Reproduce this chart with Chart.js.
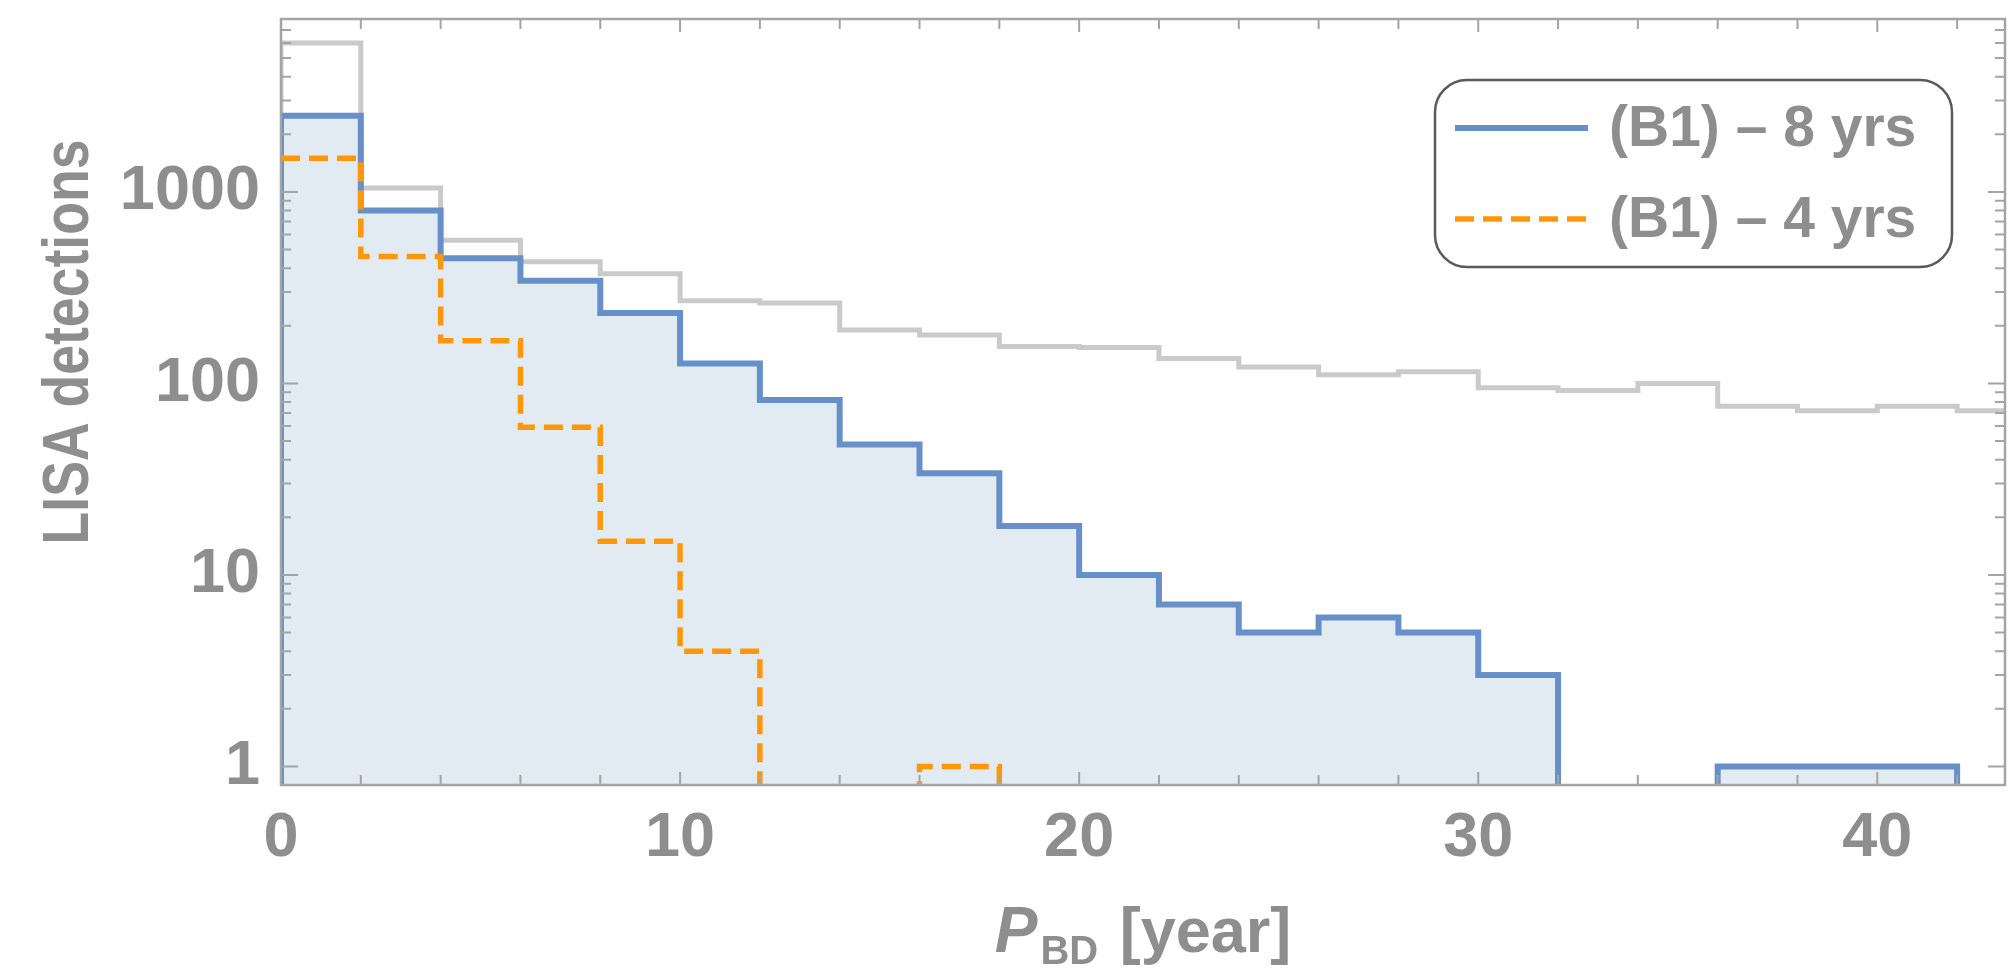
<!DOCTYPE html>
<html>
<head>
<meta charset="utf-8">
<title>LISA detections vs P_BD</title>
<script src="https://cdn.jsdelivr.net/npm/chart.js@4.4.1/dist/chart.umd.min.js"></script>
<style>
    html, body { margin: 0; padding: 0; background: #ffffff; }
    .chart-box { width: 2008px; height: 970px; position: relative; }
</style>
</head>
<body>
<div class="chart-box"><canvas id="histChart"></canvas></div>
<script>
// bin edges in years, one more than the longest count list
const binEdges = [0, 2, 4, 6, 8, 10, 12, 14, 16, 18, 20, 22, 24, 26, 28, 30, 32, 34, 36, 38, 40, 42, 44];

// counts per bin, starting at the first edge
const countsAll = [6000, 1050, 560, 432, 374, 270, 263, 190, 179, 156, 154, 135, 122, 111, 115, 95, 92, 100, 76, 72, 76, 72];
const countsB1_8yr = [2500, 800, 450, 344, 233, 127, 82, 48, 34, 18, 10, 7, 5, 6, 5, 3, 0, 0, 1, 1, 1];
const countsB1_4yr = [1500, 460, 167, 59, 15, 4, 0, 0, 1];

const seriesLabels = ['(B1) \u2013 8 yrs', '(B1) \u2013 4 yrs'];

const xTickValues = [0, 2, 4, 6, 8, 10, 12, 14, 16, 18, 20, 22, 24, 26, 28, 30, 32, 34, 36, 38, 40, 42];
const xTickLabels = [0, 10, 20, 30, 40];
const yTickLabels = [1, 10, 100, 1000];

const X_MIN = 0, X_MAX = 43.2;
const Y_MIN = 0.8, Y_MAX = 8000;
const FLOOR = 0.1;   // empty bins sit below the axis and get clipped

const FONT = '"Liberation Sans", Arial, Helvetica, sans-serif';
const TEXT_GREY = '#8e8e8e';
const FRAME_GREY = '#a4a4a4';

// minor log ticks 1..9 in every decade that fits
const yTickValues = [];
yTickLabels.forEach(d => {
    for (let m = 1; m <= 9; m++) {
        if (d * m <= Y_MAX) yTickValues.push(d * m);
    }
});

// outline of a histogram: (optional) rise at the first edge, one step per bin, drop at the last edge
function stepPoints(counts, rise) {
    const pts = rise ? [{ x: binEdges[0], y: FLOOR }] : [];
    counts.forEach((c, i) => pts.push({ x: binEdges[i], y: c > 0 ? c : FLOOR }));
    pts.push({ x: binEdges[counts.length], y: FLOOR });
    return pts;
}

// frame with inward ticks on all four sides
const frameTicks = {
    id: 'frameTicks',
    afterDatasetsDraw(chart) {
        const { ctx, chartArea: a, scales } = chart;
        ctx.save();
        ctx.strokeStyle = FRAME_GREY;
        ctx.lineWidth = 2;
        scales.x.ticks.forEach(t => {
            const px = scales.x.getPixelForValue(t.value);
            const len = xTickLabels.includes(t.value) ? 13 : 10;
            ctx.beginPath();
            ctx.moveTo(px, a.bottom); ctx.lineTo(px, a.bottom - len);
            ctx.moveTo(px, a.top); ctx.lineTo(px, a.top + len);
            ctx.stroke();
        });
        scales.y.ticks.forEach(t => {
            const py = scales.y.getPixelForValue(t.value);
            const len = yTickLabels.includes(t.value) ? 17 : 10;
            ctx.beginPath();
            ctx.moveTo(a.left, py); ctx.lineTo(a.left + len, py);
            ctx.moveTo(a.right, py); ctx.lineTo(a.right - len, py);
            ctx.stroke();
        });
        ctx.lineWidth = 2.5;
        ctx.strokeRect(a.left, a.top, a.right - a.left, a.bottom - a.top);
        ctx.restore();
    }
};

// axis titles (with the subscript) and the rounded legend box
const labelsAndLegend = {
    id: 'labelsAndLegend',
    afterDraw(chart) {
        const { ctx, chartArea: a } = chart;
        ctx.save();
        ctx.fillStyle = TEXT_GREY;
        ctx.textBaseline = 'alphabetic';
        ctx.textAlign = 'left';

        // x title: P_BD [year]
        const parts = [
            { text: 'P', font: `italic bold 64px ${FONT}`, dy: 0, gap: 3 },
            { text: 'BD', font: `bold 40px ${FONT}`, dy: 12, gap: 4 },
            { text: ' [year]', font: `bold 63px ${FONT}`, dy: 0, gap: 0 }
        ];
        let total = 0;
        parts.forEach(p => { ctx.font = p.font; p.w = ctx.measureText(p.text).width; total += p.w + p.gap; });
        let x = (a.left + a.right) / 2 - total / 2;
        const baseY = a.bottom + 167;
        parts.forEach(p => {
            ctx.font = p.font;
            ctx.fillText(p.text, x, baseY + p.dy);
            x += p.w + p.gap;
        });

        // y title, rotated
        ctx.save();
        ctx.translate(88, 342);
        ctx.rotate(-Math.PI / 2);
        ctx.font = `bold 64px ${FONT}`;
        ctx.textAlign = 'center';
        const w = ctx.measureText('LISA detections').width;
        ctx.scale(405 / w, 1);
        ctx.fillText('LISA detections', 0, 0);
        ctx.restore();

        // legend
        const box = { left: a.right - 570, top: a.top + 61, width: 517, height: 187 };
        ctx.beginPath();
        ctx.roundRect(box.left, box.top, box.width, box.height, 32);
        ctx.fillStyle = '#ffffff';
        ctx.fill();
        ctx.strokeStyle = '#5a5a5a';
        ctx.lineWidth = 2.5;
        ctx.stroke();

        const rows = chart.data.datasets.filter(ds => ds.inLegend);
        rows.forEach((ds, i) => {
            const cy = box.top + 48 + i * 91;
            ctx.beginPath();
            ctx.strokeStyle = ds.borderColor;
            ctx.lineWidth = ds.borderWidth;
            ctx.setLineDash(ds.borderDash || []);
            ctx.moveTo(box.left + 20, cy);
            ctx.lineTo(box.left + 153, cy);
            ctx.stroke();
            ctx.setLineDash([]);
            ctx.fillStyle = TEXT_GREY;
            ctx.font = `bold 57px ${FONT}`;
            ctx.textBaseline = 'middle';
            ctx.fillText(ds.label, box.left + 174, cy + 2);
        });
        ctx.restore();
    }
};

document.addEventListener('DOMContentLoaded', function() {
    const ctx = document.getElementById('histChart').getContext('2d');

    new Chart(ctx, {
        type: 'line',
        data: {
            datasets: [
                {
                    label: seriesLabels[0],
                    data: stepPoints(countsB1_8yr, true),
                    borderColor: '#6690c7',
                    backgroundColor: '#e2eaf2',
                    borderWidth: 6,
                    fill: 'start',
                    order: 1,
                    inLegend: true
                },
                {
                    label: seriesLabels[1],
                    data: stepPoints(countsB1_4yr, false),
                    borderColor: '#ff9708',
                    borderWidth: 5.5,
                    borderDash: [19, 9],
                    fill: false,
                    order: 0,
                    inLegend: true
                },
                {
                    label: 'all',
                    data: stepPoints(countsAll, true),
                    borderColor: '#cacaca',
                    borderWidth: 5,
                    fill: false,
                    order: 2,
                    inLegend: false
                }
            ]
        },
        options: {
            responsive: true,
            maintainAspectRatio: false,
            animation: false,
            layout: { padding: { top: 19, right: 3, left: 0, bottom: 0 } },
            elements: {
                line: { stepped: true, tension: 0, borderJoinStyle: 'miter', borderCapStyle: 'butt' },
                point: { radius: 0, hoverRadius: 0 }
            },
            plugins: {
                legend: { display: false },
                tooltip: { enabled: false }
            },
            scales: {
                x: {
                    type: 'linear',
                    min: X_MIN,
                    max: X_MAX,
                    grid: { display: false },
                    border: { display: false },
                    afterBuildTicks: s => { s.ticks = xTickValues.map(v => ({ value: v })); },
                    afterFit: s => { s.height = 185; s.paddingLeft = 0; s.paddingRight = 0; },
                    ticks: {
                        autoSkip: false,
                        maxRotation: 0,
                        padding: 8,
                        color: TEXT_GREY,
                        font: { family: FONT, size: 63, weight: 'bold' },
                        callback: v => xTickLabels.includes(v) ? String(v) : ''
                    }
                },
                y: {
                    type: 'logarithmic',
                    min: Y_MIN,
                    max: Y_MAX,
                    grid: { display: false },
                    border: { display: false },
                    afterBuildTicks: s => { s.ticks = yTickValues.map(v => ({ value: v })); },
                    afterFit: s => { s.width = 281; s.paddingTop = 0; s.paddingBottom = 0; },
                    ticks: {
                        autoSkip: false,
                        padding: 13,
                        color: TEXT_GREY,
                        font: { family: FONT, size: 63, weight: 'bold' },
                        callback: v => yTickLabels.includes(v) ? String(v) : ''
                    }
                }
            }
        },
        plugins: [frameTicks, labelsAndLegend]
    });
});
</script>
</body>
</html>
